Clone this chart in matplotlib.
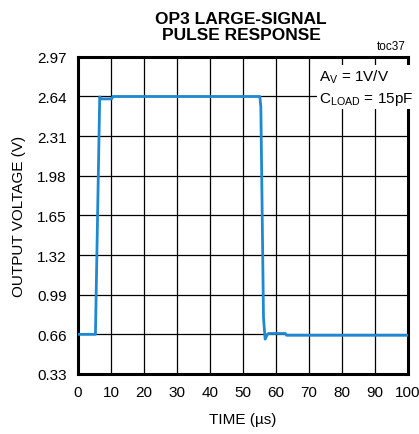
import matplotlib
matplotlib.use("Agg")
import matplotlib.pyplot as plt

# waveform
time_us = [0, 5.3, 6.6, 7.0, 10.2, 10.6, 55.1, 55.4, 56.2, 56.7, 57.3, 57.7, 62.8, 63.2, 100]
volts = [0.66, 0.66, 2.637, 2.62, 2.62, 2.64, 2.64, 2.55, 0.80, 0.62, 0.655, 0.667, 0.667, 0.652, 0.652]

x_ticks = [0, 10, 20, 30, 40, 50, 60, 70, 80, 90, 100]
y_ticks = [0.33, 0.66, 0.99, 1.32, 1.65, 1.98, 2.31, 2.64, 2.97]

plt.rcParams["font.family"] = ["Liberation Sans", "DejaVu Sans"]

fig = plt.figure(figsize=(4.19, 4.35), dpi=100)
ax = fig.add_axes([0.186, 0.138, 0.788, 0.729])

ax.plot(time_us, volts, color="#1f88d2", lw=2.0, zorder=3)

ax.set_xlim(0, 100)
ax.set_ylim(0.33, 2.97)
ax.set_xticks(x_ticks)
ax.set_yticks(y_ticks)
ax.set_yticklabels(["%.2f" % v for v in y_ticks])
ax.grid(True, color="black", lw=0.9)
ax.tick_params(length=0, labelsize=11, pad=8)
for s in ax.spines.values():
    s.set_linewidth(2.2)

ax.set_xlabel("TIME (µs)", fontsize=11, labelpad=9)
ax.set_ylabel("OUTPUT VOLTAGE (V)", fontsize=11, labelpad=8)

fig.text(0.575, 0.937, "OP3 LARGE-SIGNAL\nPULSE RESPONSE", ha="center", va="center",
         fontsize=12.5, fontweight="bold", linespacing=1.15)
fig.text(0.968, 0.878, "toc37", ha="right", va="bottom", fontsize=8.5)

ax.text(0.73, 0.905, "A$_\\mathregular{V}$ = 1V/V\nC$_\\mathregular{LOAD}$ = 15pF",
        transform=ax.transAxes, ha="left", va="center", fontsize=11, linespacing=1.45,
        bbox=dict(facecolor="white", edgecolor="none", pad=1.5), zorder=4)

fig.savefig("out.png", dpi=100)
